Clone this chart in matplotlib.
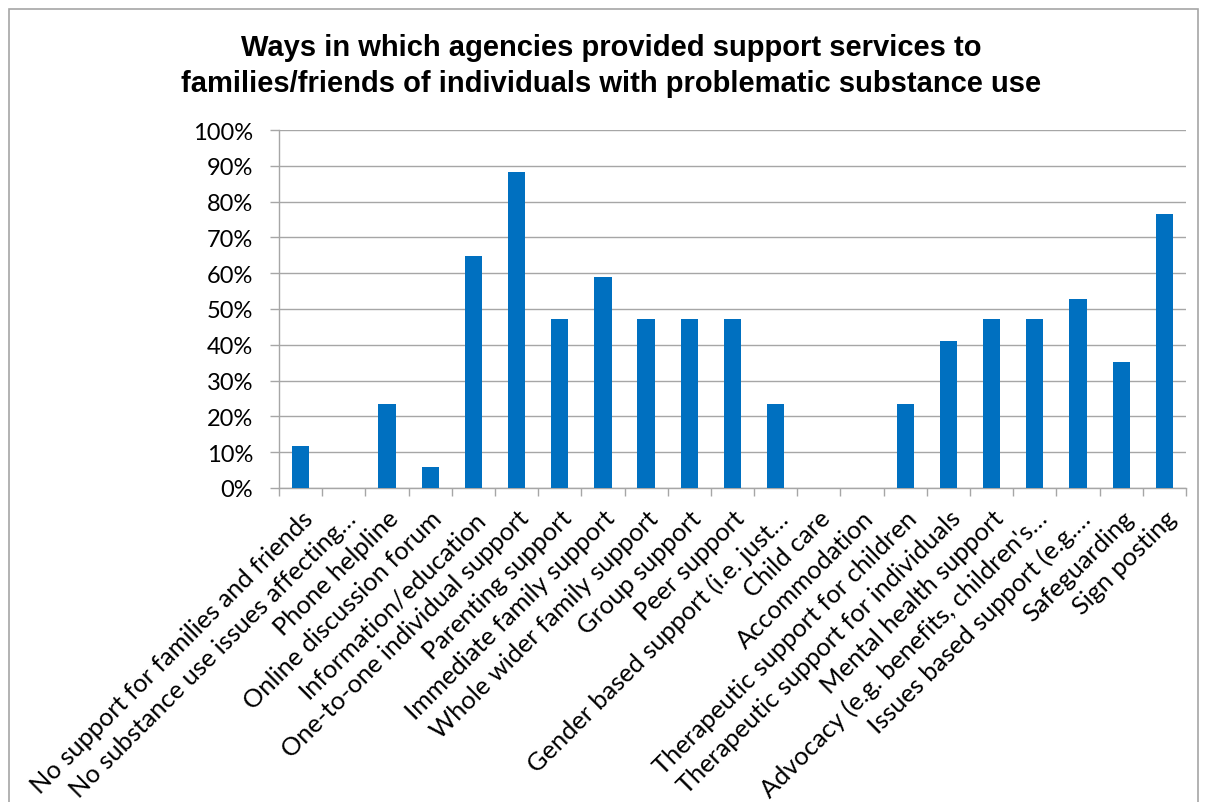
import matplotlib
matplotlib.use("Agg")
import matplotlib.pyplot as plt
from matplotlib.patches import Rectangle
from matplotlib.ticker import PercentFormatter, FixedLocator

# ======================
# Support services for families/friends
# ======================

categorias = [
    "No support for families and friends",
    "No substance use issues affecting…",
    "Phone helpline",
    "Online discussion forum",
    "Information/education",
    "One-to-one individual support",
    "Parenting support",
    "Immediate family support",
    "Whole wider family support",
    "Group support",
    "Peer support",
    "Gender based support (i.e. just…",
    "Child care",
    "Accommodation",
    "Therapeutic support for children",
    "Therapeutic support for individuals",
    "Mental health support",
    "Advocacy (e.g. benefits, children's…",
    "Issues based support (e.g.…",
    "Safeguarding",
    "Sign posting",
]

percentuais = [11.8, 0, 23.5, 5.9, 64.7, 88.2, 47.1, 58.8, 47.1, 47.1, 47.1,
               23.5, 0, 0, 23.5, 41.2, 47.1, 47.1, 52.9, 35.3, 76.5]

titulo = ("Ways in which agencies provided support services to\n"
          "families/friends of individuals with problematic substance use")

fig = plt.figure(figsize=(12.06, 8.03), dpi=100)
ax = fig.add_axes([279 / 1206, 1 - 489 / 803, (1186 - 279) / 1206, (489 - 131) / 803])

x = list(range(len(categorias)))
ax.bar(x, percentuais, width=0.4, color="#0070C0", zorder=3)

ax.set_xlim(-0.5, len(categorias) - 0.5)
ax.set_ylim(0, 100)
ax.set_yticks(range(0, 101, 10))
ax.yaxis.set_major_formatter(PercentFormatter(decimals=0))
ax.grid(axis="y", color="#A6A6A6", linewidth=1, zorder=0)

ax.set_xticks(x)
ax.set_xticklabels(categorias, rotation=45, ha="right", va="top",
                   rotation_mode="anchor", family="Lato", fontsize=18.3)
ax.xaxis.set_minor_locator(FixedLocator([i - 0.5 for i in range(len(categorias) + 1)]))
ax.tick_params(axis="x", which="major", length=0, pad=13)
ax.tick_params(axis="x", which="minor", length=6, color="#A6A6A6", width=1)
ax.tick_params(axis="y", length=6.5, color="#A6A6A6", width=1, pad=12)
for lbl in ax.get_yticklabels():
    lbl.set_family("Lato")
    lbl.set_fontsize(17)

for lado in ["top", "right"]:
    ax.spines[lado].set_visible(False)
for lado in ["left", "bottom"]:
    ax.spines[lado].set_color("#A6A6A6")
    ax.spines[lado].set_linewidth(1)

fig.text(0.507, 1 - 66 / 803, titulo, ha="center", va="center",
         family="Liberation Sans", fontweight="bold", fontsize=21,
         linespacing=1.35)

# moldura cinza em volta do gráfico
fig.patches.append(Rectangle((9 / 1206, -0.05), (1198 - 9) / 1206, 1.05 - 10 / 803,
                             transform=fig.transFigure, fill=False,
                             edgecolor="#A6A6A6", linewidth=1.2))

fig.savefig("out.png", dpi=100)
